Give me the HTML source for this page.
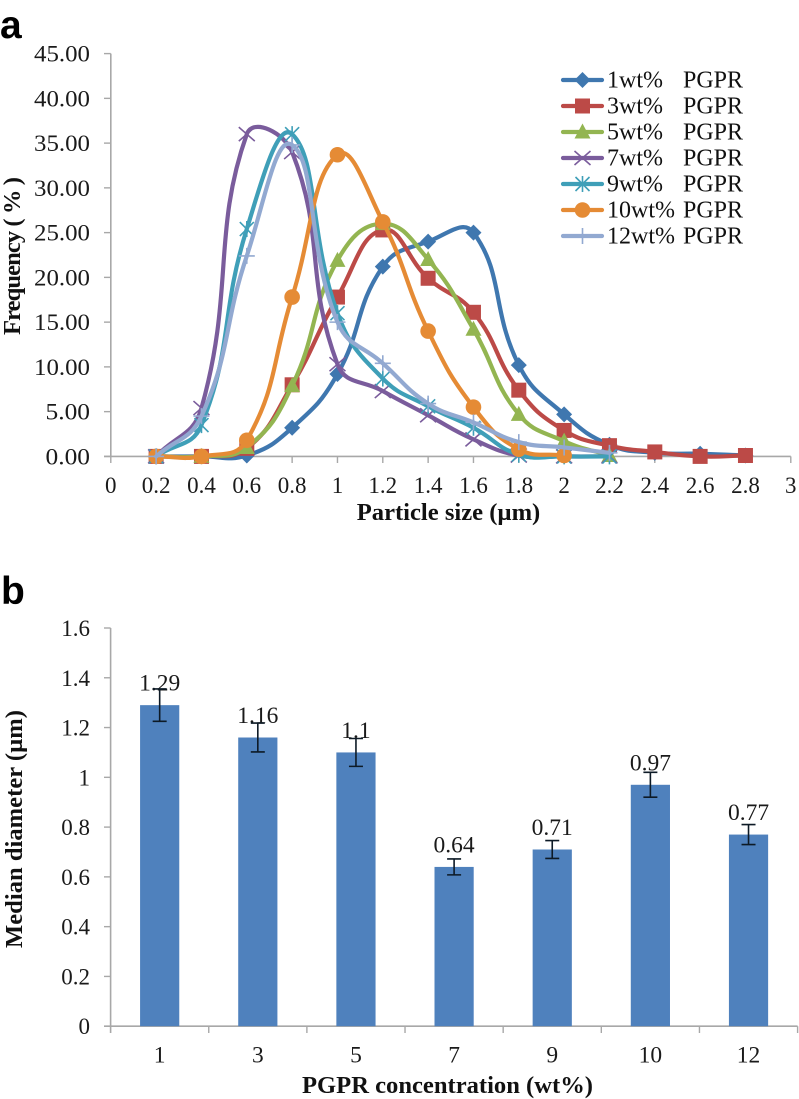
<!DOCTYPE html>
<html>
<head>
<meta charset="utf-8">
<title>Particle size distribution and median diameter</title>
<style>
html,body{margin:0;padding:0;background:#fff;}
svg{display:block;font-family:"Liberation Serif",serif;}
</style>
</head>
<body>
<svg id="figure" width="799" height="1099" viewBox="0 0 799 1099" xmlns="http://www.w3.org/2000/svg">
  <rect x="0" y="0" width="799" height="1099" fill="#fff"/>
  <text x="0" y="38" font-family="Liberation Sans, sans-serif" font-weight="bold" font-size="39" fill="#000">a</text>
  <text x="1" y="604" font-family="Liberation Sans, sans-serif" font-weight="bold" font-size="39" fill="#000">b</text>
  <text x="448.500" y="520" text-anchor="middle" font-weight="bold" font-size="24.600" fill="#111">Particle size (µm)</text>
  <text transform="translate(20,256) rotate(-90)" text-anchor="middle" font-weight="bold" font-size="24.600" textLength="158" fill="#111">Frequency ( % )</text>
  <text x="447.500" y="1093" text-anchor="middle" font-weight="bold" font-size="24.600" fill="#111">PGPR concentration (wt%)</text>
  <text transform="translate(22,829) rotate(-90)" text-anchor="middle" font-weight="bold" font-size="24.600" textLength="238" fill="#111">Median diameter (µm)</text>
  <g id="chart-a"></g>
  <g id="chart-b"></g>
</svg>
<script>
// Panel A data
const sizes = [0.2,0.4,0.6,0.8,1,1.2,1.4,1.6,1.8,2,2.2,2.4,2.6,2.8];
const freq1 = [0,0,0.1,3.2,9.2,21.2,24,25,10.2,4.7,1.3,0.4,0.3,0.1];
const freq3 = [0,0,0.9,8,17.8,25.3,19.9,16.1,7.4,2.9,1.2,0.5,0,0.1];
const freq5 = [0,0,1,7.9,21.9,26,22,14.2,4.7,1.7,0.1];
const freq7 = [0,5.4,36,34,10.3,7.3,4.6,1.9,0.1,0,0];
const freq9 = [0,3.5,25.4,36,16,8.7,5.6,3.2,0.2,0,0];
const freq10 = [0,0,1.8,17.8,33.7,26.2,14,5.5,0.8,0.1];
const freq12 = [0,4.5,22.4,34.8,15,10.4,5.9,3.8,1.6,1,0.4];
const seriesLabels = ["1wt%","3wt%","5wt%","7wt%","9wt%","10wt%","12wt%"];
const seriesValues = [freq1,freq3,freq5,freq7,freq9,freq10,freq12];
const seriesColors = ["#3F77AF","#BC4A47","#93B551","#7A5C9C","#3F9FB8","#E58B35","#92A9D1"];
const seriesMarkers = ["diamond","square","triangle","x","star","circle","plus"];
const xTicksA = [0,0.2,0.4,0.6,0.8,1,1.2,1.4,1.6,1.8,2,2.2,2.4,2.6,2.8,3];
const yTicksA = [0,5,10,15,20,25,30,35,40,45];
// Panel B data
const concentrations = ["1","3","5","7","9","10","12"];
const medians = [1.29,1.16,1.1,0.64,0.71,0.97,0.77];
const medianErrors = [0.065,0.058,0.056,0.032,0.036,0.05,0.04];
const yTicksB = [0,0.2,0.4,0.6,0.8,1,1.2,1.4,1.6];

const NS = "http://www.w3.org/2000/svg";
const axisColor = "#a8a8a8";
const chartA = document.getElementById("chart-a");
const chartB = document.getElementById("chart-b");

function xA(v){ return 110.8 + v * (790.8 - 110.8) / 3; }
function yA(v){ return 456.4 - v * (456.4 - 53.6) / 45; }
const bandB = (797.6 - 110.6) / concentrations.length;
function xB(i){ return 110.6 + (i + 0.5) * bandB; }
function yB(v){ return 1026.2 - v * (1026.2 - 628) / 1.6; }

function make(tag, parent, attrs){
  const el = document.createElementNS(NS, tag);
  for (const k in attrs) el.setAttribute(k, attrs[k]);
  parent.appendChild(el);
  return el;
}

function dist(a, b){ return Math.hypot(a[0] - b[0], a[1] - b[1]); }

function smoothPath(pts){
  const f = 0.45;
  let d = "M" + pts[0][0].toFixed(2) + " " + pts[0][1].toFixed(2);
  for (let i = 0; i < pts.length - 1; i++){
    const p0 = pts[Math.max(i - 1, 0)], p1 = pts[i], p2 = pts[i + 1], p3 = pts[Math.min(i + 2, pts.length - 1)];
    const d1 = dist(p0, p1), d2 = dist(p1, p2), d3 = dist(p2, p3);
    const r1 = (d1 + d2) > 0 ? d2 / (d1 + d2) : 0;
    const r2 = (d2 + d3) > 0 ? d2 / (d2 + d3) : 0;
    const c1x = p1[0] + (p2[0] - p0[0]) * r1 * f, c1y = p1[1] + (p2[1] - p0[1]) * r1 * f;
    const c2x = p2[0] - (p3[0] - p1[0]) * r2 * f, c2y = p2[1] - (p3[1] - p1[1]) * r2 * f;
    d += "C" + c1x.toFixed(2) + " " + c1y.toFixed(2) + " " + c2x.toFixed(2) + " " + c2y.toFixed(2) + " " + p2[0].toFixed(2) + " " + p2[1].toFixed(2);
  }
  return d;
}

function drawMarker(parent, kind, x, y, color){
  if (kind === "diamond") {
    const m = make("polygon", parent, {points:(x-8)+","+y+" "+x+","+(y-8)+" "+(x+8)+","+y+" "+x+","+(y+8), fill:color});
    
    
  } else if (kind === "square") {
    const m = make("rect", parent, {x:x-7.5, y:y-7.5, width:15, height:15, fill:color});
    
    
  } else if (kind === "triangle") {
    const m = make("polygon", parent, {points:x+","+(y-8.5)+" "+(x+8)+","+(y+6.5)+" "+(x-8)+","+(y+6.5), fill:color});
    
    
  } else if (kind === "circle") {
    const m = make("circle", parent, {cx:x, cy:y, r:7.8, fill:color});
    
    
  } else {
    const d = {
      x: "M"+(x-8)+" "+(y-7)+"L"+(x+8)+" "+(y+7)+"M"+(x-8)+" "+(y+7)+"L"+(x+8)+" "+(y-7),
      star: "M"+(x-7)+" "+(y-7)+"L"+(x+7)+" "+(y+7)+"M"+(x-7)+" "+(y+7)+"L"+(x+7)+" "+(y-7)+"M"+x+" "+(y-8)+"L"+x+" "+(y+8),
      plus: "M"+(x-8)+" "+y+"L"+(x+8)+" "+y+"M"+x+" "+(y-8)+"L"+x+" "+(y+8)
    }[kind];
    const m = make("path", parent, {d:d, fill:"none", stroke:color, "stroke-width":1.6});
    
    
  }
}

// Panel A axes
const axisLineY = make("line", chartA, {x1:110.8, y1:53.6, x2:110.8, y2:456.4, stroke:axisColor, "stroke-width":1.6});


const axisLineX = make("line", chartA, {x1:104, y1:456.4, x2:790.8, y2:456.4, stroke:axisColor, "stroke-width":1.6});



yTicksA.forEach(function(v){
  const t = make("line", chartA, {x1:104, y1:yA(v), x2:110.8, y2:yA(v), stroke:axisColor, "stroke-width":1.4});
  
  
  const s = v.toFixed(2);
  const l = make("text", chartA, {x:90, y:yA(v)+8, "text-anchor":"end", "font-size":23.5, fill:"#1a1a1a", textLength:s.length === 5 ? 56 : 44.5, lengthAdjust:"spacingAndGlyphs"});
  
  
  l.textContent = s;
});
xTicksA.forEach(function(v){
  const t = make("line", chartA, {x1:xA(v), y1:456.4, x2:xA(v), y2:463, stroke:axisColor, "stroke-width":1.4});
  
  
  const l = make("text", chartA, {x:xA(v), y:493, "text-anchor":"middle", "font-size":23, fill:"#1a1a1a"});
  
  
  l.textContent = String(v);
});

// Panel A series
seriesValues.forEach(function(vals, s){
  const g = make("g", chartA, {});
  
  
  const pts = vals.map(function(v, i){ return [xA(sizes[i]), yA(v)]; });
  const line = make("path", g, {d:smoothPath(pts), fill:"none", stroke:seriesColors[s], "stroke-width":4.2, "stroke-linecap":"round", "stroke-linejoin":"round"});
  
  
  pts.forEach(function(p){ drawMarker(g, seriesMarkers[s], p[0], p[1], seriesColors[s]); });
});

// Legend
const legend = make("g", chartA, {});


seriesLabels.forEach(function(name, s){
  const rowY = 80 + s * 26;
  const row = make("g", legend, {});
  
  
  const sw = make("line", row, {x1:563, y1:rowY, x2:602, y2:rowY, stroke:seriesColors[s], "stroke-width":4.2, "stroke-linecap":"round"});
  
  
  drawMarker(row, seriesMarkers[s], 582.5, rowY, seriesColors[s]);
  const txt = make("text", row, {x:607, y:rowY+7.5, "font-size":24, fill:"#111"});
  
  
  txt.textContent = name;
  const pg = make("text", row, {x:683, y:rowY+7.5, "font-size":24, fill:"#111"});
  
  
  pg.textContent = "PGPR";
});

// Panel B axes
const axisBY = make("line", chartB, {x1:110.6, y1:628, x2:110.6, y2:1033, stroke:axisColor, "stroke-width":1.6});


const axisBX = make("line", chartB, {x1:104, y1:1026.2, x2:797.6, y2:1026.2, stroke:axisColor, "stroke-width":1.6});


yTicksB.forEach(function(v){
  const t = make("line", chartB, {x1:104, y1:yB(v), x2:110.6, y2:yB(v), stroke:axisColor, "stroke-width":1.4});
  
  
  const l = make("text", chartB, {x:90, y:yB(v)+8, "text-anchor":"end", "font-size":23, fill:"#1a1a1a"});
  
  
  l.textContent = String(v);
});
concentrations.forEach(function(c, i){
  const t = make("line", chartB, {x1:110.6+(i+1)*bandB, y1:1026.2, x2:110.6+(i+1)*bandB, y2:1033, stroke:axisColor, "stroke-width":1.4});
  
  
  const l = make("text", chartB, {x:xB(i), y:1062.5, "text-anchor":"middle", "font-size":23.5, fill:"#1a1a1a"});
  
  
  l.textContent = c;
});

// Panel B bars
medians.forEach(function(v, i){
  const cx = xB(i);
  const bar = make("rect", chartB, {x:cx-19.6, y:yB(v), width:39.2, height:1026.2-yB(v), fill:"#4F81BD"});
  
  
  const lab = make("text", chartB, {x:cx, y:yB(v)-14.5, "text-anchor":"middle", "font-size":23.5, fill:"#1a1a1a"});
  
  
  lab.textContent = String(v);
  const top = yB(v + medianErrors[i]), bot = yB(v - medianErrors[i]);
  const eb = make("path", chartB, {d:"M"+cx+" "+top+"L"+cx+" "+bot+"M"+(cx-7)+" "+top+"L"+(cx+7)+" "+top+"M"+(cx-7)+" "+bot+"L"+(cx+7)+" "+bot, fill:"none", stroke:"#0d1a26", "stroke-width":1.6});
  
  
});
</script>
</body>
</html>
